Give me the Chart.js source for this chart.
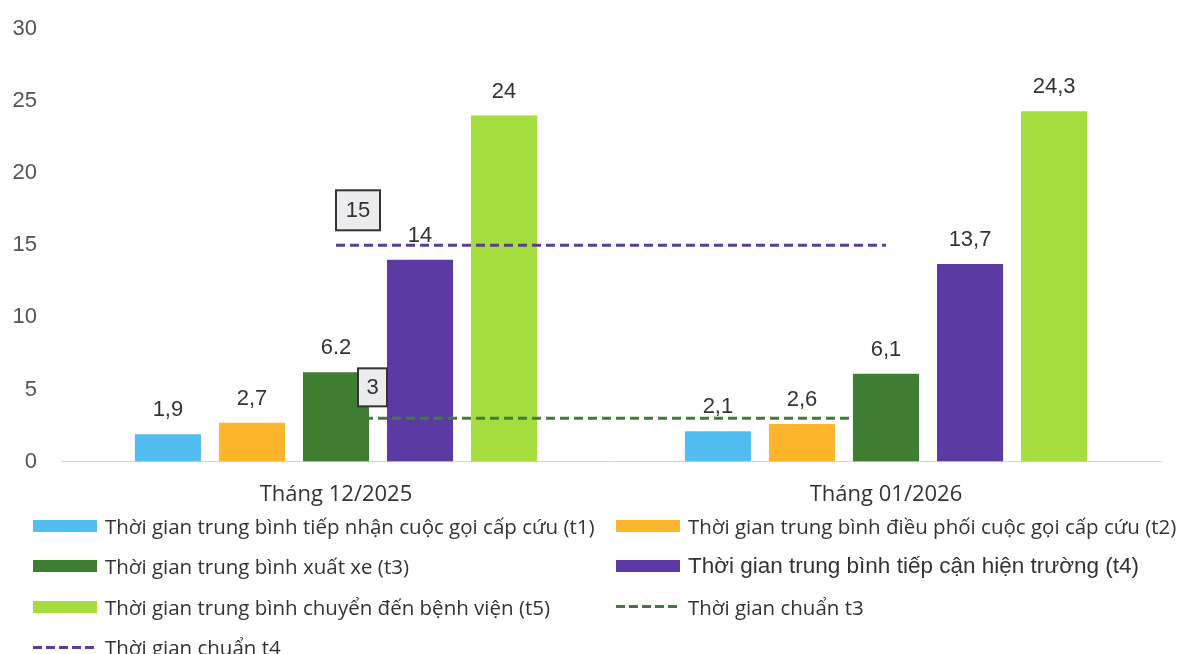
<!DOCTYPE html>
<html lang="vi">
<head>
<meta charset="utf-8">
<title>Thời gian cấp cứu</title>
<script src="https://cdn.jsdelivr.net/npm/chart.js@4.4.1/dist/chart.umd.min.js"></script>
<style>
    html, body { margin: 0; padding: 0; background: #fff; }
    body { width: 1180px; height: 654px; overflow: hidden; position: relative; font-family: 'Open Sans', 'Liberation Sans', Arial, sans-serif; }
    #chart-wrap { position: absolute; left: 0; top: 0; width: 1180px; height: 532px; }
    #legend { position: absolute; left: 33px; top: 506px; display: grid; grid-template-columns: 583px 560px; grid-auto-rows: 40.3px; }
    .legend-item { display: flex; align-items: center; font-size: 20.5px; color: #333; white-space: nowrap; }
    .legend-item.big { font-family: 'Liberation Sans', Arial, sans-serif; font-size: 22.5px; }
    .legend-swatch { width: 64px; height: 12px; margin-right: 8px; flex: none; }
    .legend-dash { height: 3px; }
</style>
</head>
<body>
<div id="chart-wrap"><canvas id="cap-cuu-chart"></canvas></div>
<div id="legend"></div>
<script>
// Dữ liệu
const categories = ['Tháng 12/2025', 'Tháng 01/2026'];
const seriesNames = [
    'Thời gian trung bình tiếp nhận cuộc gọi cấp cứu (t1)',
    'Thời gian trung bình điều phối cuộc gọi cấp cứu (t2)',
    'Thời gian trung bình xuất xe (t3)',
    'Thời gian trung bình tiếp cận hiện trường (t4)',
    'Thời gian trung bình chuyển đến bệnh viện (t5)'
];
const t1Values = [1.9, 2.1];
const t2Values = [2.7, 2.6];
const t3Values = [6.2, 6.1];
const t4Values = [14, 13.7];
const t5Values = [24, 24.3];
// nhãn hiển thị đúng như hình gốc (có chỗ dùng dấu chấm)
const t1Text = ['1,9', '2,1'];
const t2Text = ['2,7', '2,6'];
const t3Text = ['6.2', '6,1'];
const t4Text = ['14', '13,7'];
const t5Text = ['24', '24,3'];
const standardNames = ['Thời gian chuẩn t3', 'Thời gian chuẩn t4'];
const standardT3 = [3, 3];
const standardT4 = [15, 15];
const yMin = 0, yMax = 30, yStep = 5;

const barColors = ['#52bdf1', '#fdb62c', '#3f7d33', '#5c3aa3', '#a5dc3e'];
const lineColors = ['#467a3c', '#5a3c99'];

const labelFont = '"Liberation Sans", Arial, sans-serif';

// Nhãn giá trị trên đầu cột
const valueLabelPlugin = {
    id: 'valueLabels',
    afterDatasetsDraw(chart) {
        const ctx = chart.ctx;
        ctx.save();
        ctx.font = '22px ' + labelFont;
        ctx.fillStyle = '#333';
        ctx.textAlign = 'center';
        ctx.textBaseline = 'bottom';
        chart.data.datasets.forEach((ds, i) => {
            if (!ds.valueText) return;
            chart.getDatasetMeta(i).data.forEach((bar, j) => {
                ctx.fillText(ds.valueText[j], bar.x, bar.y - 13);
            });
        });
        ctx.restore();
    }
};

// Đường chuẩn t3 chỉ hiện giữa hai cột t3 (cột t3 che hai đầu)
const betweenBarsClip = {
    id: 'betweenBarsClip',
    beforeDatasetDraw(chart, args) {
        const ds = chart.data.datasets[args.index];
        if (ds.clipBetween === undefined) return;
        const bars = chart.getDatasetMeta(ds.clipBetween).data;
        const x0 = bars[0].x + bars[0].width / 2;
        const x1 = bars[bars.length - 1].x - bars[bars.length - 1].width / 2;
        const ctx = chart.ctx;
        ctx.save();
        ctx.beginPath();
        ctx.rect(x0, chart.chartArea.top, x1 - x0, chart.chartArea.bottom - chart.chartArea.top);
        ctx.clip();
    },
    afterDatasetDraw(chart, args) {
        const ds = chart.data.datasets[args.index];
        if (ds.clipBetween === undefined) return;
        chart.ctx.restore();
    }
};

// Ô ghi giá trị chuẩn cạnh đầu đường nét đứt
const standardBoxPlugin = {
    id: 'standardBoxes',
    afterDatasetsDraw(chart) {
        const ctx = chart.ctx;
        chart.data.datasets.forEach((ds, i) => {
            if (!ds.boxText) return;
            const p = chart.getDatasetMeta(i).data[0];
            const b = ds.boxStyle;
            const left = p.x + b.dx;
            const top = p.y - b.gap - b.h;
            ctx.save();
            ctx.fillStyle = '#ececef';
            ctx.strokeStyle = '#333';
            ctx.lineWidth = 2;
            ctx.fillRect(left, top, b.w, b.h);
            ctx.strokeRect(left, top, b.w, b.h);
            ctx.fillStyle = '#333';
            ctx.font = '22px ' + labelFont;
            ctx.textAlign = 'center';
            ctx.textBaseline = 'middle';
            ctx.fillText(ds.boxText, left + b.w / 2, top + b.h / 2 + 1);
            ctx.restore();
        });
    }
};

function barDataset(i, values, texts) {
    return {
        label: seriesNames[i],
        data: values,
        valueText: texts,
        backgroundColor: barColors[i],
        borderWidth: 0,
        categoryPercentage: 0.764,
        barPercentage: 0.786,
        order: 1
    };
}

const ctx = document.getElementById('cap-cuu-chart');
const chart = new Chart(ctx, {
    type: 'bar',
    data: {
        labels: categories,
        datasets: [
            barDataset(0, t1Values, t1Text),
            barDataset(1, t2Values, t2Text),
            barDataset(2, t3Values, t3Text),
            barDataset(3, t4Values, t4Text),
            barDataset(4, t5Values, t5Text),
            {
                type: 'line',
                label: standardNames[0],
                data: standardT3,
                borderColor: lineColors[0],
                backgroundColor: lineColors[0],
                borderWidth: 3,
                borderDash: [9, 5],
                pointRadius: 0,
                order: 0,
                clipBetween: 2,
                boxText: String(standardT3[0]),
                boxStyle: { dx: 22, gap: 12, w: 29, h: 38 }
            },
            {
                type: 'line',
                label: standardNames[1],
                data: standardT4,
                borderColor: lineColors[1],
                backgroundColor: lineColors[1],
                borderWidth: 3,
                borderDash: [9, 5],
                pointRadius: 0,
                order: 0,
                boxText: String(standardT4[0]),
                boxStyle: { dx: 0, gap: 15, w: 44, h: 40 }
            }
        ]
    },
    options: {
        responsive: true,
        maintainAspectRatio: false,
        animation: false,
        layout: {
            padding: { top: 29, right: 19, bottom: 4, left: 0 }
        },
        plugins: {
            legend: { display: false },
            tooltip: { enabled: false }
        },
        scales: {
            x: {
                grid: { display: false, drawTicks: false },
                border: { display: true, color: '#d3d3d3', width: 1 },
                ticks: {
                    color: '#333',
                    padding: 20,
                    font: { size: 22, family: '"Open Sans", "Liberation Sans", Arial, sans-serif' }
                }
            },
            y: {
                min: yMin,
                max: yMax,
                grid: { display: false, drawTicks: false },
                border: { display: false },
                ticks: {
                    stepSize: yStep,
                    color: '#555',
                    padding: 24,
                    font: { size: 22, family: labelFont }
                },
                afterFit: function(scale) {
                    scale.width = 61;
                    // khoảng đệm ngang của nhãn không tính vào chiều dọc
                    scale.paddingTop = 0;
                    scale.paddingBottom = 0;
                }
            }
        }
    },
    plugins: [betweenBarsClip, valueLabelPlugin, standardBoxPlugin]
});

// Chú thích HTML dạng 2 cột
const legendEl = document.getElementById('legend');
chart.data.datasets.forEach((ds, i) => {
    const item = document.createElement('div');
    item.className = 'legend-item';
    if (i === 3) item.classList.add('big');
    const sw = document.createElement('span');
    sw.className = 'legend-swatch';
    if (ds.type === 'line') {
        sw.classList.add('legend-dash');
        sw.style.background = 'repeating-linear-gradient(to right, ' + ds.borderColor +
            ' 0 9px, transparent 9px 13px)';
    } else {
        sw.style.background = ds.backgroundColor;
    }
    const txt = document.createElement('span');
    txt.textContent = ds.label;
    item.appendChild(sw);
    item.appendChild(txt);
    legendEl.appendChild(item);
});
</script>
</body>
</html>
